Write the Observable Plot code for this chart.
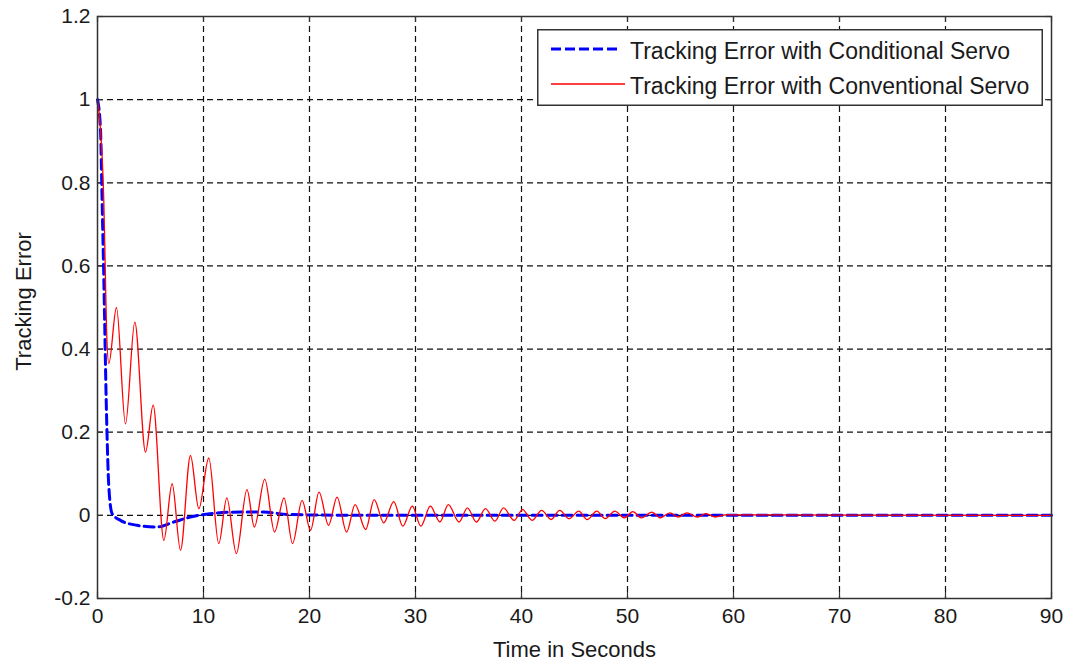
<!DOCTYPE html>
<html>
<head>
<meta charset="utf-8">
<script src="https://cdn.jsdelivr.net/npm/d3@7"></script>
<script src="https://cdn.jsdelivr.net/npm/@observablehq/plot@0.6"></script>
<style>
  body { margin: 0; background: #fff; }
  #chart { position: relative; width: 1069px; height: 664px; background: #fff; }
  #legend { position: absolute; left: 537px; top: 29px; }
</style>
</head>
<body>
<div id="chart"></div>
<script>
// ---- Tick values ----
const xTicks = [0, 10, 20, 30, 40, 50, 60, 70, 80, 90];
const yTicks = [-0.2, 0, 0.2, 0.4, 0.6, 0.8, 1, 1.2];
const xLabel = "Time in Seconds";
const yLabel = "Tracking Error";
const seriesNames = ["Tracking Error with Conditional Servo", "Tracking Error with Conventional Servo"];

// ---- Conditional servo (blue dashed) ----
const condT = [0, 0.28, 0.44, 0.6, 0.85, 1.07, 1.38, 2.17, 3.74, 5.6, 7.2, 8.77, 10.6, 13.5, 15.7, 18.0, 25, 90];
const condE = [1.0, 0.93, 0.75, 0.565, 0.245, 0.068, 0.004, -0.012, -0.024, -0.028, -0.016, -0.004, 0.004, 0.008, 0.008, 0.002, 0.0, 0.0];

// ---- Conventional servo (red solid) ----
const convT = [0, 0.28, 0.6, 0.75, 0.85, 1.07, 1.79, 2.64, 3.52, 4.53, 5.25, 6.26, 7.04, 7.83, 8.77, 9.56,
  10.5, 11.44, 12.2, 13.1, 14.1, 14.8, 15.78, 16.7, 17.6, 18.4, 19.3, 20.1, 20.9, 21.8, 22.6, 23.5, 24.3, 25.3,
  26.1, 27.0, 27.95, 28.8, 29.7, 30.5, 31.4, 32.3, 33.1, 34.1, 34.9, 35.75, 36.6, 37.5, 38.3, 39.3, 40.1, 41.0,
  41.9, 42.8, 43.6, 44.5, 45.4, 46.2, 47.1, 47.9, 48.8, 49.7, 50.5, 51.3, 52.3, 53.1, 54.0, 54.8, 55.6, 56.6,
  57.4, 58.3, 59.2, 90];
const convE = [1.0, 0.93, 0.75, 0.57, 0.45, 0.365, 0.50, 0.22, 0.465, 0.152, 0.265, -0.06, 0.076, -0.084, 0.144, 0.016,
  0.138, -0.068, 0.042, -0.092, 0.062, -0.028, 0.087, -0.04, 0.042, -0.068, 0.036, -0.036, 0.056, -0.024, 0.044, -0.04, 0.026, -0.034,
  0.038, -0.018, 0.033, -0.026, 0.022, -0.026, 0.022, -0.016, 0.026, -0.016, 0.018, -0.016, 0.016, -0.014, 0.018, -0.012, 0.014, -0.012,
  0.012, -0.01, 0.012, -0.008, 0.01, -0.01, 0.01, -0.008, 0.01, -0.006, 0.009, -0.006, 0.008, -0.006, 0.006, -0.004, 0.006, -0.004,
  0.004, -0.004, 0.001, 0.0];

const cond = condT.map((t, i) => ({t, e: condE[i]}));
const conv = convT.map((t, i) => ({t, e: convE[i]}));

const W = 1069, H = 664;
const mL = 97, mR = 18, mT = 16, mB = 66;
const pw = W - mL - mR, ph = H - mT - mB;
const font = "'Liberation Sans', Arial, Helvetica, sans-serif";
const fmt = d => String(d);

const chart = Plot.plot({
  width: W, height: H,
  marginLeft: mL, marginRight: mR, marginTop: mT, marginBottom: mB,
  style: { fontFamily: font, fontSize: "21px", color: "#1a1a1a", background: "#fff" },
  x: { domain: [0, 90] },
  y: { domain: [-0.2, 1.2] },
  marks: [
    // dashed grid
    Plot.ruleX(xTicks.slice(1, -1), { stroke: "#111", strokeWidth: 1.2, strokeDasharray: "6,4" }),
    Plot.ruleY(yTicks.slice(1, -1), { stroke: "#111", strokeWidth: 1.2, strokeDasharray: "6,4" }),
    // inward ticks (MATLAB style)
    Plot.tickX(xTicks, { x: d => d, insetTop: ph - 6, stroke: "#333", strokeWidth: 1.2 }),
    Plot.tickX(xTicks, { x: d => d, insetBottom: ph - 6, stroke: "#333", strokeWidth: 1.2 }),
    Plot.tickY(yTicks, { y: d => d, insetRight: pw - 6, stroke: "#333", strokeWidth: 1.2 }),
    Plot.tickY(yTicks, { y: d => d, insetLeft: pw - 6, stroke: "#333", strokeWidth: 1.2 }),
    // axes labels
    Plot.axisX({ ticks: xTicks, tickFormat: fmt, tickSize: 0, tickPadding: 10, label: null, fontSize: 21 }),
    Plot.axisY({ ticks: yTicks, tickFormat: fmt, tickSize: 0, tickPadding: 7, label: null, fontSize: 21 }),
    // series
    Plot.line(cond, { x: "t", y: "e", stroke: "#0000ff", strokeWidth: 3, strokeDasharray: "10,5", curve: "monotone-x" }),
    Plot.line(conv, { x: "t", y: "e", stroke: "#ff0000", strokeWidth: 1.3, curve: "monotone-x" }),
    // frame
    Plot.frame({ stroke: "#333", strokeWidth: 1.5 }),
    // axis titles
    Plot.text([xLabel], { text: d => d, frameAnchor: "bottom", dy: 51, lineAnchor: "middle", textAnchor: "middle", fontSize: 22, fill: "#1a1a1a" }),
    Plot.text([yLabel], { text: d => d, frameAnchor: "left", dx: -74, dy: -6, rotate: -90, lineAnchor: "middle", textAnchor: "middle", fontSize: 22, fill: "#1a1a1a" })
  ]
});

const host = document.getElementById("chart");
host.appendChild(chart);

// legend box
const lg = document.createElement("div");
lg.id = "legend";
const lw = 506, lh = 77;
lg.innerHTML = `
<svg width="${lw}" height="${lh}" xmlns="http://www.w3.org/2000/svg" style="display:block">
  <rect x="0.75" y="0.75" width="${lw - 1.5}" height="${lh - 1.5}" fill="#fff" stroke="#333" stroke-width="1.5"/>
  <line x1="14" x2="84" y1="20" y2="20" stroke="#0000ff" stroke-width="3" stroke-dasharray="10,4"/>
  <line x1="14" x2="88" y1="55" y2="55" stroke="#ff0000" stroke-width="1.3"/>
  <text x="93" y="30" font-family="${font.replace(/'/g, '&quot;')}" font-size="23" fill="#1a1a1a">${seriesNames[0]}</text>
  <text x="93" y="64.5" font-family="${font.replace(/'/g, '&quot;')}" font-size="23" fill="#1a1a1a">${seriesNames[1]}</text>
</svg>`;
host.appendChild(lg);
</script>
</body>
</html>
